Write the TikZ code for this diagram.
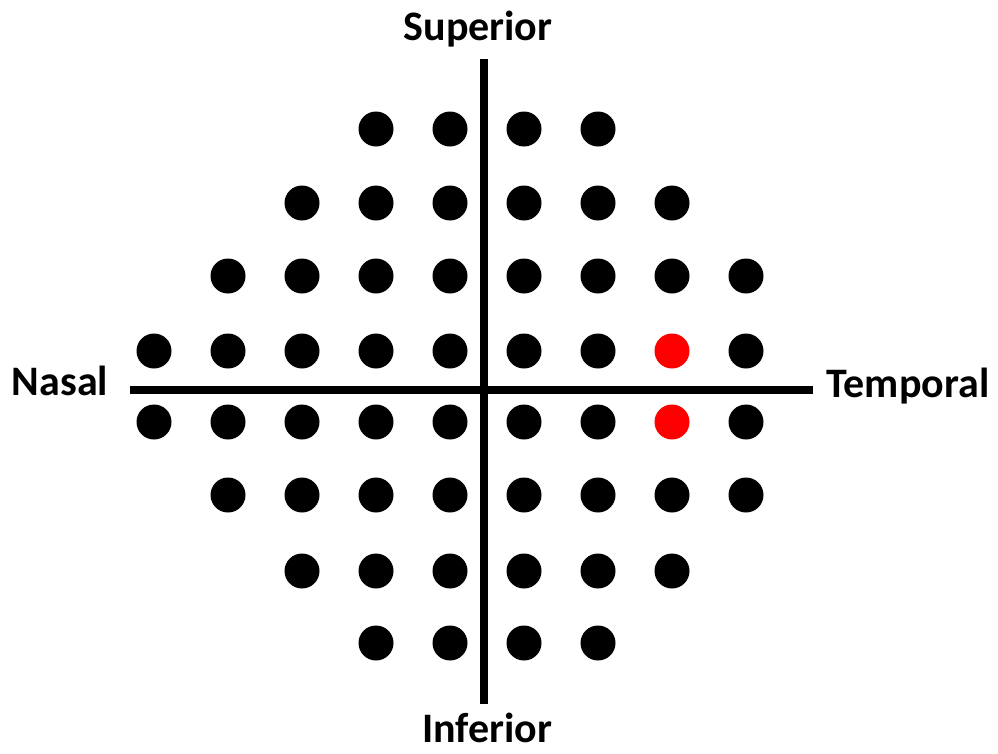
\documentclass[tikz,border=0pt]{standalone}
\usepackage{fontspec}
\setmainfont{Carlito}
\tikzset{spot/.style={circle,draw=none,minimum size=35pt,inner sep=0pt},
 axis/.style={line width=7.5pt,draw=black},
 side/.style={font=\fontsize{42}{50}\selectfont\bfseries,inner sep=0pt,anchor=base}}

\begin{document}
\begin{tikzpicture}[x=1pt,y=-1pt]
\useasboundingbox (0,0) rectangle (998,753);
% test points: row / height / first and last column
\foreach \r/\y/\a/\b in {1/129/4/7,2/203/3/8,3/276/2/9,4/351/1/9,
 5/422/1/9,6/495/2/9,7/571/3/8,8/643/4/7}
 \foreach \c in {\a,...,\b}{
  \def\dotcol{black}
  \ifnum\c=8 \ifnum\r=4 \def\dotcol{red}\fi\ifnum\r=5 \def\dotcol{red}\fi\fi
  \node[spot,fill=\dotcol] (p\r\c) at ({154+74*(\c-1)},\y) {};
 }
\coordinate (top) at (484,59);
\coordinate (bottom) at (484,704);
\coordinate (left) at (130,390);
\coordinate (right) at (813,390);
\draw[axis] (top)--(bottom);
\draw[axis] (left)--(right);
\node[side] (sup) at (478,40) {Superior};
\node[side] (inf) at (487,742) {Inferior};
\node[side] (nas) at (60,395) {Nasal};
\node[side] (tmp) at (908,397) {Temporal};
\end{tikzpicture}
\end{document}
